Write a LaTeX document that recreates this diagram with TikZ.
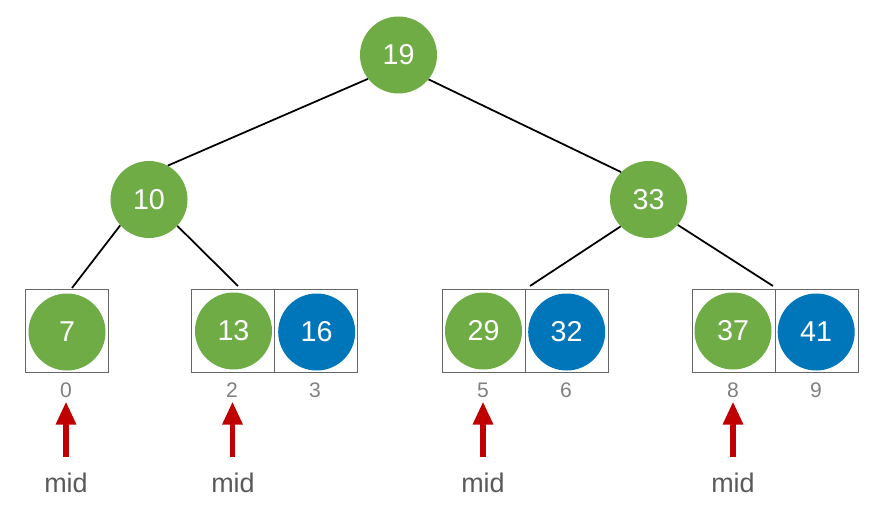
\documentclass[tikz,border=0pt]{standalone}
\usepackage{fontspec}
\setmainfont{Liberation Sans}
\usepackage{xcolor}
\usetikzlibrary{arrows.meta,positioning}
\definecolor{leafgreen}{HTML}{6FAC46}
\definecolor{keyblue}{HTML}{0076BA}
\definecolor{midred}{HTML}{C00000}
\begin{document}
\begin{tikzpicture}[x=0.03cm, y=-0.03cm,
  key/.style={circle, minimum size=2.31cm, inner sep=0pt, text=white, font=\fontsize{24.5}{24.5}\selectfont},
  green key/.style={key, fill=leafgreen},
  blue key/.style={key, fill=keyblue},
  cell/.style={draw=black!60, line width=0.55pt, minimum size=2.49cm, inner sep=0pt},
  idx/.style={text=black!50, font=\fontsize{18}{18}\selectfont},
  midlabel/.style={text=black!65, font=\fontsize{23}{23}\selectfont},
  edge/.style={line width=1.5pt, black},
  midarrow/.style={draw=midred, line width=5pt, -{Triangle[length=0.69cm, width=0.57cm]}}
]
  \useasboundingbox (0,0) rectangle (869,510);
  % boxes
  \node[cell] (c0) at (66.7,330.5) {};
  \node[cell] (c2) at (233,330.5) {};
  \node[cell] (c3) at (316,330.5) {};
  \node[cell] (c5) at (484,330.5) {};
  \node[cell] (c6) at (567,330.5) {};
  \node[cell] (c8) at (733.5,330.5) {};
  \node[cell] (c9) at (816.5,330.5) {};

  % free ends of the lower links
  \coordinate (j0) at (72,288);
  \coordinate (j2) at (238,286);
  \coordinate (j5) at (530,286);
  \coordinate (j8) at (773,286);

  \node[green key] (n19) at (398.5,55) {19};
  \node[green key] (n10) at (149,199.5) {10};
  \node[green key] (n33) at (648.5,199.5) {33};
  \node[green key] (n7) at (67,332) {7};
  \node[green key] (n13) at (233.5,331) {13};
  \node[blue key] (n16) at (316.7,332) {16};
  \node[green key] (n29) at (483.5,331) {29};
  \node[blue key] (n32) at (566.7,332) {32};
  \node[green key] (n37) at (733,331) {37};
  \node[blue key] (n41) at (816.2,332) {41};

  \draw[edge] (n19.218) -- (n10.61);
  \draw[edge] (n19.321) -- (n33.135);
  \draw[edge] (n10.222) -- (j0);
  \draw[edge] (n10.317) -- (j2);
  \draw[edge] (n33.224) -- (j5);
  \draw[edge] (n33.319) -- (j8);

  % indices
  \node[idx] (i0) at (66,390) {0};
  \node[idx] (i2) at (232,390) {2};
  \node[idx] (i3) at (315,390) {3};
  \node[idx] (i5) at (483,390) {5};
  \node[idx] (i6) at (566,390) {6};
  \node[idx] (i8) at (733,390) {8};
  \node[idx] (i9) at (816,390) {9};

  % mid pointers
  \node[midlabel] (m0) at (66,483) {mid};
  \node[midlabel] (m2) at (233,483) {mid};
  \node[midlabel] (m5) at (483,483) {mid};
  \node[midlabel] (m8) at (733,483) {mid};
  \draw[midarrow] (66,457) -- (66,401.5);
  \draw[midarrow] (232.5,457) -- (232.5,401.5);
  \draw[midarrow] (483,457) -- (483,401.5);
  \draw[midarrow] (733,457) -- (733,401.5);
\end{tikzpicture}
\end{document}
